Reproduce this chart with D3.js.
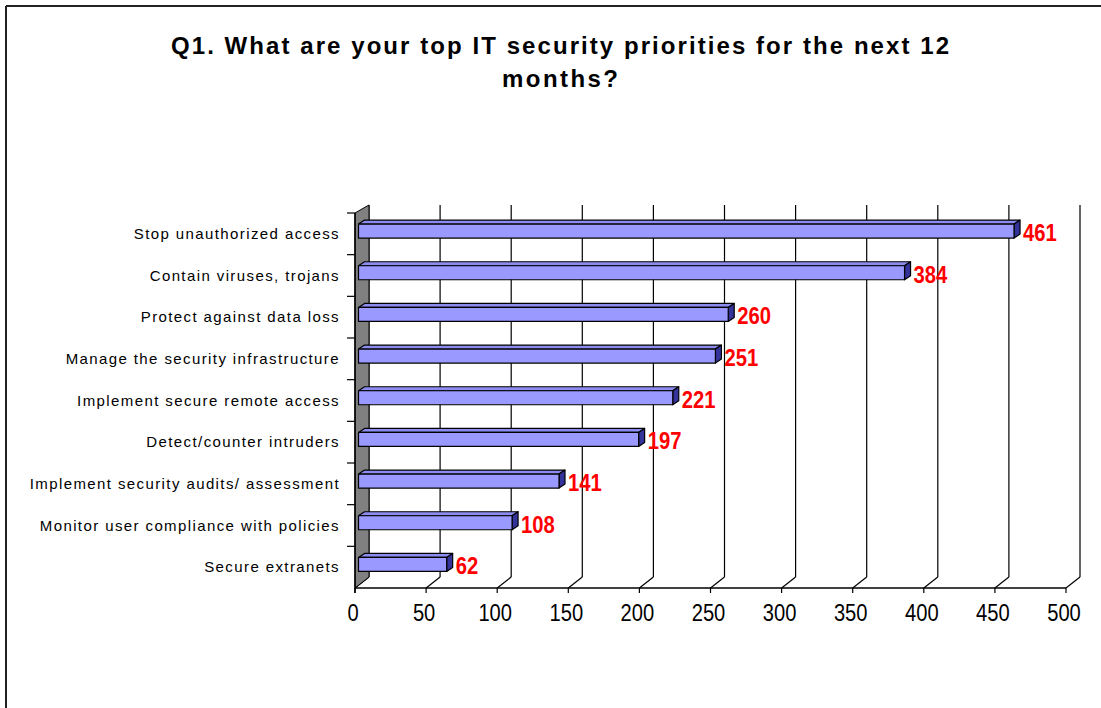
<!DOCTYPE html>
<html>
<head>
<meta charset="utf-8">
<script src="https://cdn.jsdelivr.net/npm/d3@7"></script>
<style>
  body { margin: 0; background: #fff; }
  svg { display: block; }
  .cat { font-family: "Liberation Sans", Arial, sans-serif; font-size: 15px; letter-spacing: 1.4px; }
  .tick { font-family: "Liberation Sans", Arial, sans-serif; font-size: 24px; }
  .val { font-family: "Liberation Sans", Arial, sans-serif; font-size: 23px; font-weight: bold; fill: #ff0000; }
  .title { font-family: "Liberation Sans", Arial, sans-serif; font-size: 24px; font-weight: bold; }
</style>
</head>
<body>
<div id="chart"></div>
<script>
const categories = [
  "Stop unauthorized access",
  "Contain viruses, trojans",
  "Protect against data loss",
  "Manage the security infrastructure",
  "Implement secure remote access",
  "Detect/counter intruders",
  "Implement security audits/ assessment",
  "Monitor user compliance with policies",
  "Secure extranets"
];
const values = [461, 384, 260, 251, 221, 197, 141, 108, 62];
const tickValues = [0, 50, 100, 150, 200, 250, 300, 350, 400, 450, 500];
const titleLines = ["Q1. What are your top IT security priorities for the next 12", "months?"];

const W = 1101, H = 708;
const DX = 14, DY = -11;      // depth of the 3d box
const barFront = 0.25;        // bars sit a bit behind the front plane
const bdx = 6, bdy = -4;      // bar depth
const barH = 14;

const svg = d3.select('#chart').append('svg')
  .attr('width', W).attr('height', H);

// frame
svg.append('line').attr('x1', 6).attr('y1', 6).attr('x2', W).attr('y2', 6)
  .attr('stroke', '#222').attr('stroke-width', 2);
svg.append('line').attr('x1', 6).attr('y1', 6).attr('x2', 6).attr('y2', H)
  .attr('stroke', '#222').attr('stroke-width', 2);

// title (excel spreads the letters out a lot)
let titleLen = [778, 116];
svg.selectAll('.title').data(titleLines).enter().append('text')
  .attr('class', 'title')
  .attr('text-anchor', 'middle')
  .attr('x', 560)
  .attr('y', (d, i) => 54 + i * 33)
  .attr('textLength', (d, i) => titleLen[i])
  .attr('lengthAdjust', 'spacing')
  .text(d => d);

let x = d3.scaleLinear().domain([0, 500]).range([355, 1066]);
let y = d3.scaleBand().domain(categories).range([213, 588]);
const yBottom = 588, yTop = 213;

// back wall gridlines + floor lines
let grid = svg.append('g').attr('stroke', '#000').attr('stroke-width', 1.2);
grid.selectAll('.gv').data(tickValues).enter().append('line')
  .attr('x1', d => x(d) + DX).attr('x2', d => x(d) + DX)
  .attr('y1', yTop + DY + 3).attr('y2', yBottom + DY);
grid.selectAll('.gf').data(tickValues).enter().append('line')
  .attr('x1', d => x(d)).attr('x2', d => x(d) + DX)
  .attr('y1', yBottom).attr('y2', yBottom + DY);

// left wall
svg.append('polygon')
  .attr('points', [[x(0), yTop], [x(0) + DX, yTop + DY + 3], [x(0) + DX, yBottom + DY], [x(0), yBottom]].join(' '))
  .attr('fill', '#808080').attr('stroke', '#000').attr('stroke-width', 1);

// category axis
svg.append('line').attr('x1', x(0)).attr('x2', x(0)).attr('y1', yTop).attr('y2', yBottom + 5)
  .attr('stroke', '#000').attr('stroke-width', 1.5);
svg.selectAll('.ct').data(categories).enter().append('line')
  .attr('x1', x(0) - 8).attr('x2', x(0))
  .attr('y1', d => y(d)).attr('y2', d => y(d))
  .attr('stroke', '#000').attr('stroke-width', 1.2);

svg.selectAll('.cat').data(categories).enter().append('text')
  .attr('class', 'cat')
  .attr('x', 340)
  .attr('y', d => y(d) + y.bandwidth() / 2)
  .attr('dy', '0.35em')
  .attr('text-anchor', 'end')
  .text(d => d);

// value axis
svg.append('line').attr('x1', x(0)).attr('x2', x(500)).attr('y1', yBottom).attr('y2', yBottom)
  .attr('stroke', '#000').attr('stroke-width', 1.5);
svg.selectAll('.vt').data(tickValues).enter().append('line')
  .attr('x1', d => x(d)).attr('x2', d => x(d))
  .attr('y1', yBottom).attr('y2', yBottom + 5)
  .attr('stroke', '#000').attr('stroke-width', 1.2);
// narrow font is not installed, so squeeze the text instead
svg.selectAll('.tick').data(tickValues).enter().append('text')
  .attr('class', 'tick')
  .attr('transform', d => 'translate(' + (x(d) - 2) + ',621) scale(0.84,1)')
  .attr('text-anchor', 'middle')
  .text(d => d);

// bars
let data = categories.map((c, i) => ({ name: c, value: values[i] }));
let ox = DX * barFront, oy = DY * barFront;
let bars = svg.selectAll('.bar').data(data).enter().append('g')
  .attr('stroke', '#000').attr('stroke-width', 1.2).attr('stroke-linejoin', 'round');

function geom(d) {
  let x0 = x(0) + ox, x1 = x(d.value) + ox;
  let yt = y(d.name) + y.bandwidth() / 2 + oy - barH / 2;
  return { x0, x1, yt, yb: yt + barH };
}

bars.append('polygon')
  .attr('points', d => { let g = geom(d); return [[g.x0, g.yt], [g.x0 + bdx, g.yt + bdy], [g.x1 + bdx, g.yt + bdy], [g.x1, g.yt]].join(' '); })
  .attr('fill', '#8c8cf0');
bars.append('polygon')
  .attr('points', d => { let g = geom(d); return [[g.x1, g.yt], [g.x1 + bdx, g.yt + bdy], [g.x1 + bdx, g.yb + bdy], [g.x1, g.yb]].join(' '); })
  .attr('fill', '#333399');
bars.append('rect')
  .attr('x', d => geom(d).x0).attr('y', d => geom(d).yt)
  .attr('width', d => geom(d).x1 - geom(d).x0).attr('height', barH)
  .attr('fill', '#9999ff');

// value labels
svg.selectAll('.val').data(data).enter().append('text')
  .attr('class', 'val')
  .attr('transform', d => 'translate(' + (geom(d).x1 + bdx + 3) + ',' + (geom(d).yt + barH / 2 + 2) + ') scale(0.88,1)')
  .attr('dy', '0.35em')
  .text(d => d.value);
</script>
</body>
</html>
